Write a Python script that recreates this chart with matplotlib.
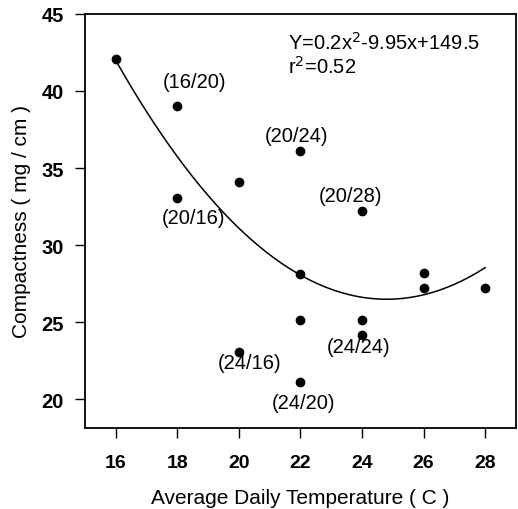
import numpy as np
import matplotlib.pyplot as plt

plt.rcParams["font.family"] = ["Liberation Sans", "DejaVu Sans"]

# observed points
temps = [16, 18, 18, 20, 20, 22, 22, 22, 22, 24, 24, 24, 26, 26, 28]
compact = [42.1, 39.05, 33.05, 34.1, 23.1, 36.1, 28.15, 25.15, 21.15, 32.2, 25.15, 24.2, 28.2, 27.2, 27.2]

# quadratic fit as drawn
fit_coef = [0.2, -9.92, 149.5]
fit_range = [16, 28]

# treatment labels (day/night) and where they sit
label_text = ["(16/20)", "(20/16)", "(20/24)", "(20/28)", "(24/16)", "(24/24)", "(24/20)"]
label_x = [18.56, 18.52, 21.86, 23.64, 20.34, 23.9, 22.1]
label_y = [40.6, 31.8, 37.1, 33.2, 22.4, 23.4, 19.8]

fig = plt.figure(figsize=(5.18, 5.10), dpi=100)
ax = fig.add_axes([0.164, 0.159, 0.832, 0.812])

xs = np.linspace(fit_range[0], fit_range[1], 200)
ax.plot(xs, np.polyval(fit_coef, xs), color="black", lw=1.1)
ax.plot(temps, compact, "o", color="black", ms=6)

for t, x, y in zip(label_text, label_x, label_y):
    ax.text(x, y, t, ha="center", va="center", fontsize=14.5)

ax.text(21.6, 43.2, "Y=0.2x$^2$-9.95x+149.5", fontsize=14.5, va="center")
ax.text(21.6, 41.6, "r$^2$=0.52", fontsize=14.5, va="center")

ax.set_xlim(15, 29)
ax.set_ylim(18.15, 45)
ax.set_xticks([16, 18, 20, 22, 24, 26, 28])
ax.set_yticks([20, 25, 30, 35, 40, 45])
ax.tick_params(direction="out", length=7, width=1)
ax.tick_params(axis="x", labelsize=14, pad=12)
ax.tick_params(axis="y", labelsize=14.5, pad=8)
for lab in ax.get_xticklabels() + ax.get_yticklabels():
    lab.set_fontweight("bold")
for s in ax.spines.values():
    s.set_linewidth(1.3)

ax.set_xlabel("Average Daily Temperature ( C )", fontsize=15, labelpad=12)
ax.set_ylabel("Compactness ( mg / cm )", fontsize=15, labelpad=8)

fig.savefig("out.png", dpi=100)
